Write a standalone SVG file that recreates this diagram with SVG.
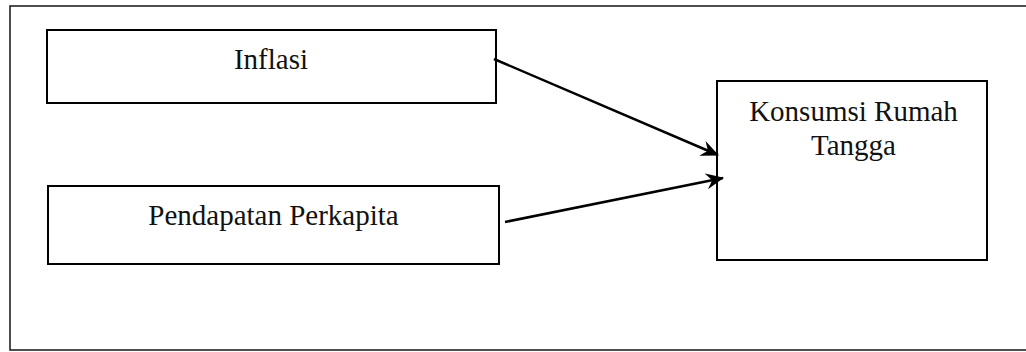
<svg xmlns="http://www.w3.org/2000/svg" width="1026" height="352" viewBox="0 0 1026 352">
<style>
.box{fill:#fff;stroke:#000;stroke-width:2}
.lbl{font-family:"Liberation Serif","Times New Roman",serif;font-size:29px;fill:#111;text-anchor:middle}
.conn{stroke:#000;stroke-width:2.5;fill:none;marker-end:url(#ah)}
</style>
<defs>
<marker id="ah" markerUnits="userSpaceOnUse" markerWidth="20" markerHeight="18" refX="17" refY="8" orient="auto">
<path d="M0,0 L18,8 L0,16 L6,8 Z" fill="#000"/>
</marker>
</defs>
<rect x="0" y="0" width="1026" height="352" fill="#fff"/>
<rect id="frame" x="10" y="6" width="1030" height="344" fill="none" stroke="#222" stroke-width="1.6"/>
<g id="inflasi">
<rect class="box" x="47" y="30" width="449" height="73"/>
<text class="lbl" x="271" y="69">Inflasi</text>
</g>
<g id="pendapatan">
<rect class="box" x="48" y="186" width="451" height="78"/>
<text class="lbl" x="273.5" y="225">Pendapatan Perkapita</text>
</g>
<g id="konsumsi">
<rect class="box" x="717" y="81" width="270" height="179"/>
<text class="lbl" x="853.5" y="121">Konsumsi Rumah</text>
<text class="lbl" x="853.5" y="155">Tangga</text>
</g>
<g id="connectors">
<line class="conn" x1="494" y1="59" x2="718" y2="155"/>
<line class="conn" x1="505" y1="222" x2="723" y2="178"/>
</g>
</svg>
